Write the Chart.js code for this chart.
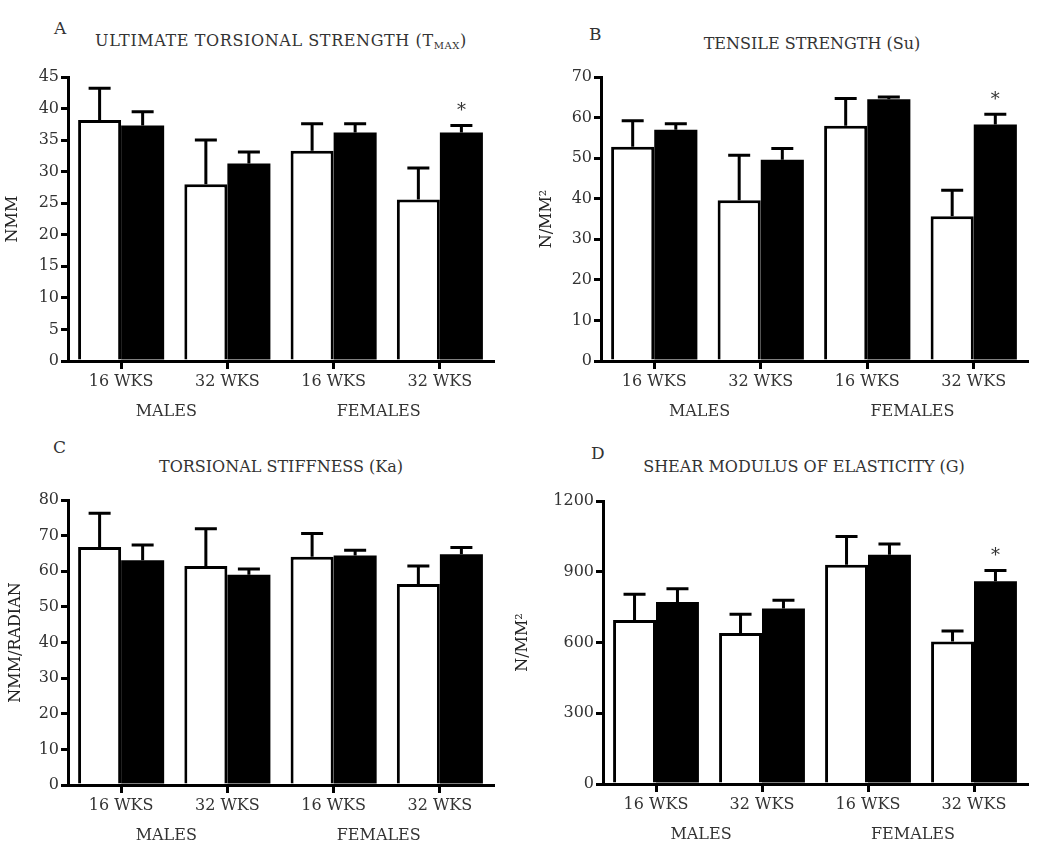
<!DOCTYPE html>
<html lang="en">
<head>
<meta charset="UTF-8">
<title>Torsional and tensile properties</title>
<script src="https://cdn.jsdelivr.net/npm/chart.js"></script>
<style>
  body {
    margin: 0;
    background: #fff;
    width: 1050px;
    height: 848px;
    position: relative;
    overflow: hidden;
    font-family: "DejaVu Serif", serif;
    color: #333;
  }
  canvas { position: absolute; }
  .letter { position: absolute; font-size: 17px; line-height: 1; }
  .title {
    position: absolute;
    font-size: 16px;
    line-height: 1;
    white-space: nowrap;
    transform: translate(-50%, -50%);
  }
  .title sub { font-size: 10px; vertical-align: -3px; }
</style>
</head>
<body>
  <div class="letter" style="left:54px;top:20px">A</div>
  <div class="title" style="left:281px;top:42px;letter-spacing:0.6px">ULTIMATE TORSIONAL STRENGTH (T<sub>MAX</sub>)</div>
  <div class="letter" style="left:589px;top:26px">B</div>
  <div class="title" style="left:812px;top:44px">TENSILE STRENGTH (Su)</div>
  <div class="letter" style="left:53px;top:439px">C</div>
  <div class="title" style="left:281px;top:467px">TORSIONAL STIFFNESS (Ka)</div>
  <div class="letter" style="left:591px;top:445px">D</div>
  <div class="title" style="left:804px;top:467px">SHEAR MODULUS OF ELASTICITY (G)</div>

  <canvas id="chartA" width="525" height="424" style="left:0;top:0"></canvas>
  <canvas id="chartB" width="525" height="424" style="left:525px;top:0"></canvas>
  <canvas id="chartC" width="525" height="424" style="left:0;top:424px"></canvas>
  <canvas id="chartD" width="545" height="424" style="left:505px;top:424px"></canvas>

  <script>
    const weeks = ['16 WKS', '32 WKS', '16 WKS', '32 WKS'];
    const groups = ['MALES', 'FEMALES'];

    // A - ultimate torsional strength (NMM)
    const whiteA = [38.2, 28.0, 33.3, 25.6];
    const whiteErrA = [5.0, 7.0, 4.3, 5.0];
    const blackA = [37.3, 31.3, 36.2, 36.2];
    const blackErrA = [2.2, 1.8, 1.4, 1.1];
    const sigA = [false, false, false, true];

    // B - tensile strength (N/MM2)
    const whiteB = [52.8, 39.6, 58.0, 35.7];
    const whiteErrB = [6.4, 11.1, 6.7, 6.4];
    const blackB = [57.0, 49.6, 64.5, 58.3];
    const blackErrB = [1.5, 2.8, 0.6, 2.5];
    const sigB = [false, false, false, true];

    // C - torsional stiffness (NMM/RADIAN)
    const whiteC = [66.8, 61.5, 64.1, 56.4];
    const whiteErrC = [9.5, 10.4, 6.5, 5.1];
    const blackC = [63.1, 59.0, 64.4, 64.8];
    const blackErrC = [4.3, 1.6, 1.5, 1.9];
    const sigC = [false, false, false, false];

    // D - shear modulus of elasticity (N/MM2)
    const whiteD = [695, 640, 930, 604];
    const whiteErrD = [110, 80, 120, 45];
    const blackD = [772, 744, 972, 860];
    const blackErrD = [56, 35, 46, 45];
    const sigD = [false, false, false, true];

    const tickFont = { family: 'DejaVu Serif', size: 16 };
    const ink = '#333';

    const errorBars = {
      id: 'errorBars',
      afterDatasetsDraw(chart) {
        const ctx = chart.ctx;
        const y = chart.scales.y;
        chart.data.datasets.forEach((ds, i) => {
          chart.getDatasetMeta(i).data.forEach((bar, j) => {
            const top = y.getPixelForValue(ds.data[j] + ds.errors[j]);
            ctx.save();
            ctx.strokeStyle = '#000';
            ctx.lineWidth = 3;
            ctx.beginPath();
            ctx.moveTo(bar.x, bar.y);
            ctx.lineTo(bar.x, top);
            ctx.moveTo(bar.x - 11, top);
            ctx.lineTo(bar.x + 11, top);
            ctx.stroke();
            if (ds.sig && ds.sig[j]) {
              ctx.fillStyle = ink;
              ctx.font = '18px "DejaVu Serif"';
              ctx.textAlign = 'center';
              ctx.textBaseline = 'middle';
              ctx.fillText('*', bar.x, top - 14);
            }
            ctx.restore();
          });
        });
      }
    };

    function makePanel(id, p) {
      return new Chart(document.getElementById(id), {
        type: 'bar',
        data: {
          labels: weeks,
          datasets: [
            { data: p.white, errors: p.whiteErr, backgroundColor: '#fff', borderColor: '#000', borderWidth: 3 },
            { data: p.black, errors: p.blackErr, sig: p.sig, backgroundColor: '#000', borderColor: '#000', borderWidth: 0 }
          ]
        },
        options: {
          responsive: false,
          animation: false,
          layout: { padding: { top: p.padTop, right: p.padRight, left: 0, bottom: 0 } },
          datasets: { bar: { categoryPercentage: 0.81, barPercentage: 1 } },
          plugins: { legend: { display: false }, tooltip: { enabled: false } },
          scales: {
            x: {
              grid: { drawOnChartArea: false, offset: false, tickLength: 8, lineWidth: 3, color: '#000' },
              border: { width: 3, color: '#000' },
              ticks: { font: tickFont, color: ink, padding: 3, maxRotation: 0 },
              afterFit: s => { s.height = 28; }
            },
            x2: {
              type: 'category',
              labels: groups,
              position: 'bottom',
              offset: true,
              grid: { display: false },
              border: { display: false },
              ticks: { font: tickFont, color: ink, padding: 5, labelOffset: -8, maxRotation: 0 },
              afterFit: s => { s.height = p.x2h; }
            },
            y: {
              min: 0,
              max: p.max,
              ticks: { stepSize: p.step, font: tickFont, color: ink, padding: 2, callback: v => String(v) },
              grid: { drawOnChartArea: false, tickLength: 7, lineWidth: 3, color: '#000' },
              border: { width: 3, color: '#000' },
              title: { display: true, text: p.yTitle, font: tickFont, color: '#222', padding: { top: p.titlePad, bottom: 0 } },
              afterFit: s => { s.width = p.yWidth; }
            }
          }
        },
        plugins: [errorBars]
      });
    }

    makePanel('chartA', { white: whiteA, whiteErr: whiteErrA, black: blackA, blackErr: blackErrA, sig: sigA,
      max: 45, step: 5, yTitle: 'NMM', yWidth: 68, padTop: 77, padRight: 32, x2h: 35, titlePad: 3 });
    makePanel('chartB', { white: whiteB, whiteErr: whiteErrB, black: blackB, blackErr: blackErrB, sig: sigB,
      max: 70, step: 10, yTitle: 'N/MM²', yWidth: 76, padTop: 77, padRight: 23, x2h: 35, titlePad: 12 });
    makePanel('chartC', { white: whiteC, whiteErr: whiteErrC, black: blackC, blackErr: blackErrC, sig: sigC,
      max: 80, step: 10, yTitle: 'NMM/RADIAN', yWidth: 68, padTop: 76, padRight: 32, x2h: 35, titlePad: 6 });
    makePanel('chartD', { white: whiteD, whiteErr: whiteErrD, black: blackD, blackErr: blackErrD, sig: sigD,
      max: 1200, step: 300, yTitle: 'N/MM²', yWidth: 98, padTop: 77, padRight: 23, x2h: 36, titlePad: 8 });
  </script>
</body>
</html>
